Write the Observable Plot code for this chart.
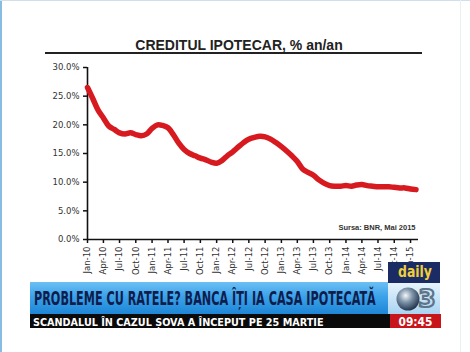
<!DOCTYPE html>
<html>
<head>
<meta charset="utf-8">
<script src="https://cdn.jsdelivr.net/npm/d3@7"></script>
<script src="https://cdn.jsdelivr.net/npm/@observablehq/plot@0.6"></script>
<style>
  html, body { margin: 0; padding: 0; background: #fff; }
  #chart { width: 470px; height: 352px; overflow: hidden; }
</style>
</head>
<body>
<div id="chart"></div>
<script>
// ---- data (monthly, Jan-10 .. Feb-15), % an/an ----
const startYear = 2010;
const startMonth = 0; // January
const values = [
  26.5, 24.5, 22.6, 21.2, 19.8, 19.2, 18.6, 18.4, 18.6, 18.3, 18.1, 18.4,
  19.4, 20.0, 19.9, 19.5, 18.3, 16.8, 15.7, 15.0, 14.6, 14.2, 13.9, 13.5,
  13.3, 13.8, 14.6, 15.3, 16.1, 16.9, 17.5, 17.8, 18.0, 17.9, 17.5, 16.9,
  16.2, 15.4, 14.6, 13.6, 12.3, 11.7, 11.2, 10.4, 9.8, 9.4, 9.3, 9.3,
  9.4, 9.3, 9.5, 9.6, 9.4, 9.3, 9.2, 9.2, 9.2, 9.1, 9.0, 9.0,
  8.8, 8.7
];
const tickLabels = ["Jan-10","Apr-10","Jul-10","Oct-10","Jan-11","Apr-11","Jul-11","Oct-11",
  "Jan-12","Apr-12","Jul-12","Oct-12","Jan-13","Apr-13","Jul-13","Oct-13",
  "Jan-14","Apr-14","Jul-14","Oct-14","Jan-15"];
const yTicks = [0, 5, 10, 15, 20, 25, 30];
const titleText = "CREDITUL IPOTECAR, % an/an";
const sourceText = "Sursa: BNR, Mai 2015";
const headline = "PROBLEME CU RATELE? BANCA ÎȚI IA CASA IPOTECATĂ";
const ticker = "SCANDALUL ÎN CAZUL ȘOVA A ÎNCEPUT PE 25 MARTIE";
const clock = "09:45";

const start = new Date(Date.UTC(startYear, startMonth, 1));
const end = new Date(Date.UTC(2015, 1, 15));
const data = values.map((v, i) => ({date: d3.utcMonth.offset(start, i), value: v}));
const parseLabel = d3.utcParse("%b-%y");
const tickDates = tickLabels.map(parseLabel);

const chart = Plot.plot({
  width: 470,
  height: 352,
  marginLeft: 87,
  marginRight: 52,
  marginTop: 67,
  marginBottom: 113,
  style: {background: "transparent", fontFamily: "DejaVu Sans, Verdana, sans-serif", fontSize: "8.5px", color: "#333", overflow: "visible"},
  x: {type: "utc", domain: [start, end]},
  y: {domain: [0, 30]},
  marks: [
    Plot.axisY({ticks: yTicks, tickFormat: d => d.toFixed(1) + "%", tickSize: 4, tickPadding: 4, strokeWidth: 1.5, stroke: "#111", label: null}),
    Plot.axisX({ticks: tickDates, tickFormat: d3.utcFormat("%b-%y"), tickRotate: -90, tickSize: 4, tickPadding: 3, strokeWidth: 1.5, stroke: "#111", label: null}),
    Plot.ruleX([start], {y1: 0, y2: 30, stroke: "#111", strokeWidth: 1.6}),
    Plot.ruleY([0], {x1: start, x2: end, stroke: "#111", strokeWidth: 1.6}),
    Plot.lineY(data, {x: "date", y: "value", stroke: "#d71a20", strokeWidth: 5.5, curve: "catmull-rom", strokeLinecap: "round", strokeLinejoin: "round"}),
    Plot.text([sourceText], {frameAnchor: "bottom-right", dx: -3, dy: -10, textAnchor: "end", fontWeight: "bold", fontSize: 7.5, fill: "#333", fontFamily: "Liberation Sans, Arial, sans-serif"})
  ]
});
document.getElementById("chart").appendChild(chart);

// ---- decorations: title, frame, TV banner ----
const svg = d3.select(chart);
const defs = svg.insert("defs", ":first-child");
const g1 = defs.append("linearGradient").attr("id", "blueBar").attr("x1", 0).attr("y1", 0).attr("x2", 0).attr("y2", 1);
g1.append("stop").attr("offset", "0%").attr("stop-color", "#6cc0f4");
g1.append("stop").attr("offset", "45%").attr("stop-color", "#3ba2ea");
g1.append("stop").attr("offset", "100%").attr("stop-color", "#1f86d6");
const g2 = defs.append("linearGradient").attr("id", "paleBar").attr("x1", 0).attr("y1", 0).attr("x2", 0).attr("y2", 1);
g2.append("stop").attr("offset", "0%").attr("stop-color", "#e8f4fc");
g2.append("stop").attr("offset", "100%").attr("stop-color", "#a9d3f1");
const g3 = defs.append("radialGradient").attr("id", "globe").attr("cx", "40%").attr("cy", "35%").attr("r", "65%");
g3.append("stop").attr("offset", "0%").attr("stop-color", "#f4f7fa");
g3.append("stop").attr("offset", "45%").attr("stop-color", "#7f95aa");
g3.append("stop").attr("offset", "100%").attr("stop-color", "#25384f");

const deco = svg.append("g").attr("text-anchor", "start");

// text squeezed horizontally to a target width via a transform (keeps a true bbox)
function fitText(str, x, y, width, font, size, fill) {
  const t = deco.append("text").attr("x", 0).attr("y", 0).attr("text-anchor", "start")
    .attr("font-family", font).attr("font-weight", "bold").attr("font-size", size)
    .attr("fill", fill).text(str);
  const w = t.node().getComputedTextLength() || width;
  t.attr("transform", `translate(${x},${y}) scale(${width / w},1)`);
  return t;
}

// frame
deco.append("line").attr("x1", 1).attr("x2", 1).attr("y1", 0).attr("y2", 352).attr("stroke", "#86bde0").attr("stroke-width", 2);
deco.append("line").attr("x1", 0).attr("x2", 470).attr("y1", 0.5).attr("y2", 0.5).attr("stroke", "#cfe0ea").attr("stroke-width", 1);
deco.append("line").attr("x1", 460.5).attr("x2", 460.5).attr("y1", 0).attr("y2", 352).attr("stroke", "#e9f0f4").attr("stroke-width", 1);

// title
deco.append("text").attr("x", 239).attr("y", 50).attr("text-anchor", "middle")
  .attr("font-family", "Liberation Sans, Arial, sans-serif").attr("font-weight", "bold").attr("font-size", 14)
  .attr("fill", "#222").text(titleText);
deco.append("line").attr("x1", 45).attr("x2", 422).attr("y1", 53).attr("y2", 53).attr("stroke", "#222").attr("stroke-width", 2);

// daily logo
deco.append("rect").attr("x", 388).attr("y", 262).attr("width", 52).attr("height", 21).attr("fill", "#1b2b63");
fitText("daily", 398, 277, 34, "DejaVu Sans, sans-serif", 15, "#f0cf3a");

// headline bar
deco.append("rect").attr("x", 30).attr("y", 282).attr("width", 358).attr("height", 32).attr("fill", "url(#blueBar)");
deco.append("rect").attr("x", 388).attr("y", 283).attr("width", 52).attr("height", 31).attr("fill", "url(#paleBar)");
fitText(headline, 34, 304.5, 342, "DejaVu Sans Condensed, Liberation Sans Narrow, sans-serif", 20, "#0f1d4d");

// globe "3" logo
deco.append("circle").attr("cx", 408).attr("cy", 299).attr("r", 11.5).attr("fill", "url(#globe)");
deco.append("text").attr("x", 427).attr("y", 307).attr("text-anchor", "middle")
  .attr("font-family", "DejaVu Sans, sans-serif").attr("font-weight", "bold").attr("font-size", 25)
  .attr("fill", "none").attr("stroke", "#5d7489").attr("stroke-width", 2.2).text("3");

// ticker bar
deco.append("rect").attr("x", 30).attr("y", 314).attr("width", 360).attr("height", 14).attr("fill", "#0a0a0a");
fitText(ticker, 33, 325.5, 291, "DejaVu Sans, sans-serif", 10.5, "#fff");
deco.append("rect").attr("x", 390).attr("y", 314).attr("width", 51).attr("height", 14).attr("fill", "#c8141b");
fitText(clock, 398.5, 325.5, 34, "DejaVu Sans, sans-serif", 11.5, "#fff");
</script>
</body>
</html>
